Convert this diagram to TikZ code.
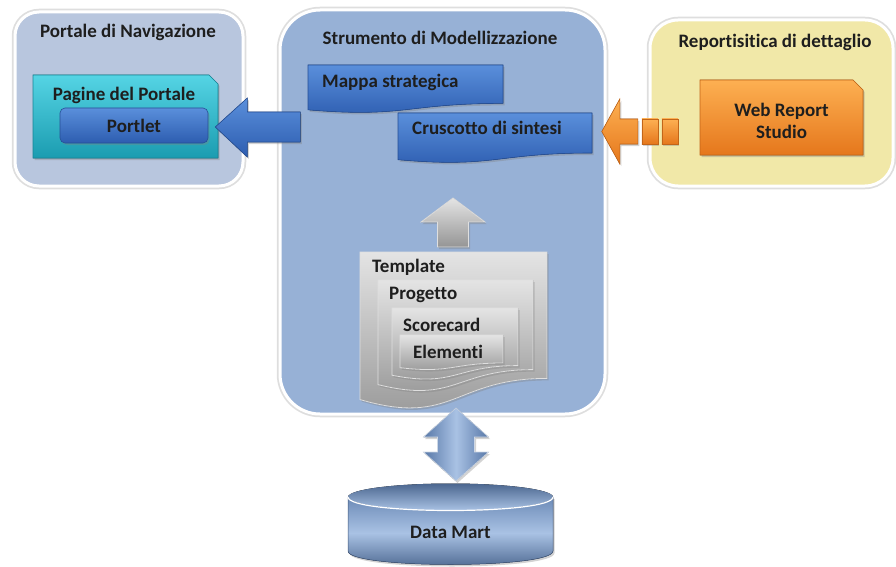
\documentclass[tikz,border=0pt]{standalone}
\usepackage{fontspec}
\setmainfont{Carlito}[Ligatures=NoCommon]
\usetikzlibrary{calc,shadows}

\definecolor{navbg}{HTML}{B8C6DE}
\definecolor{modbg}{HTML}{97B1D6}
\definecolor{repbg}{HTML}{F1E8A8}
\definecolor{txt}{HTML}{1E1E1E}
\definecolor{cyanT}{HTML}{55D4E4}
\definecolor{cyanB}{HTML}{1B9CB0}
\definecolor{blueT}{HTML}{5A8FDB}
\definecolor{blueB}{HTML}{2D5DB0}
\definecolor{orT}{HTML}{FDB052}
\definecolor{orB}{HTML}{E5771C}
\definecolor{grT}{HTML}{E4E4E4}
\definecolor{grB}{HTML}{959595}
\definecolor{cylD}{HTML}{5878A8}
\definecolor{cylL}{HTML}{A9C2E4}

% flowchart "document" outline: left, top, right, height
\newcommand\docpath[4]{(#1,#2) -- (#3,#2) -- (#3,{#2+0.8*#4})
  .. controls ({(#1+#3)/2},{#2+0.8*#4}) and ({(#1+#3)/2},{#2+1.107*#4}) ..
  (#1,{#2+0.934*#4}) -- cycle}
% rectangle with its top-right corner snipped: left, top, right, bottom, snip
\newcommand\snippath[5]{(#1,#2) -- ({#3-#5},#2) -- (#3,{#2+#5}) -- (#3,#4)
  -- (#1,#4) -- cycle}

\tikzset{
  lbl/.style={font=\bfseries\fontsize{19}{22}\selectfont, text=txt, inner sep=0pt},
  panelbox/.style={draw=white, line width=3pt,
    preaction={draw=black!13, line width=6.5pt}, inner sep=0pt},
  softshadow/.style={drop shadow={opacity=0.35, shadow xshift=1.5pt, shadow yshift=-2pt}},
  bluefill/.style={top color=blueT, bottom color=blueB, draw=blueB!85!black,
    line width=0.6pt, softshadow},
  cyanfill/.style={top color=cyanT, bottom color=cyanB, draw=cyanB!85!black,
    line width=0.6pt, softshadow},
  orangefill/.style={top color=orT, bottom color=orB, draw=orB!85!black,
    line width=0.6pt, softshadow},
  grayfill/.style={top color=grT, bottom color=grB, draw=white!75!gray,
    line width=0.8pt, softshadow},
  dbarrow/.style={left color=cylD, right color=cylD, middle color=cylL,
    draw=white!70!cylD, line width=0.6pt, softshadow},
}

\begin{document}
\begin{tikzpicture}[x=1pt,y=-1pt]
\useasboundingbox (0,0) rectangle (896,567);

% ---- three panels
\node[panelbox, fill=navbg, rounded corners=24pt,
      minimum width=228pt, minimum height=174pt] (nav) at (129,99) {};
\node[panelbox, fill=modbg, rounded corners=40pt,
      minimum width=325pt, minimum height=404pt] (mod) at (442.5,212) {};
\node[panelbox, fill=repbg, rounded corners=28pt,
      minimum width=243pt, minimum height=166pt] (rep) at (771.5,103) {};

\node[lbl] (navtitle) at (128,32) {Portale di Navigazione};
\node[lbl] (modtitle) at (440,38) {Strumento di Modellizzazione};
\node[lbl] (reptitle) at (775,42) {Reportisitica di dettaglio};

% ---- navigation portal
\fill[cyanfill] \snippath{33}{75}{218}{158}{9};
\node[lbl] (paginetitle) at (124,95) {Pagine del Portale};
\node[bluefill, rounded corners=5pt, minimum width=148pt, minimum height=35pt,
      inner sep=0pt, lbl] (portlet) at (134,125.5) {Portlet};

% ---- modelling tool boxes
\fill[bluefill] \docpath{308}{65}{503}{48};
\node[lbl, anchor=west] (mappa) at (322,82) {Mappa strategica};
\fill[bluefill] \docpath{398}{113}{592}{50};
\node[lbl, anchor=west] (cruscotto) at (412,128) {Cruscotto di sintesi};

% ---- report box
\fill[orangefill] \snippath{700}{80}{863}{155}{10};
\node[lbl, align=center, minimum width=163pt, minimum height=75pt]
      (webreport) at (781.5,121) {Web Report\\Studio};

% ---- nested template stack
\fill[grayfill] \docpath{360}{252}{547}{158};
\node[lbl, anchor=west] (template) at (372,267) {Template};
\fill[grayfill] \docpath{378}{280}{533}{112};
\node[lbl, anchor=west] (progetto) at (389,295) {Progetto};
\fill[grayfill] \docpath{392}{308}{518}{72};
\node[lbl, anchor=west] (scorecard) at (403,325) {Scorecard};
\fill[grayfill] \docpath{400}{335}{503}{35};
\node[lbl, anchor=west] (elementi) at (413,352) {Elementi};

% ---- data mart cylinder
\fill[top color=cylD!75!cylL, bottom color=cylD!85!black, middle color=cylL, softshadow]
  (348,497) -- (348,551) .. controls (348,569) and (553,569) .. (553,551)
  -- (553,497) -- cycle;
\draw[cylD!70!black, line width=0.5pt]
  (348,497) -- (348,551) .. controls (348,569) and (553,569) .. (553,551)
  -- (553,497);
\fill[top color=cylD!85!black, bottom color=cylL] (450.5,497)
  ellipse [x radius=102.5, y radius=13.5];
\draw[white, line width=1.2pt]
  (348,497) .. controls (348,515) and (553,515) .. (553,497);
\node[lbl] (datamart) at (450.5,532) {Data Mart};

% ---- block arrows
\coordinate (bluetip) at ($(portlet.east)+(7,1.5)$);
\fill[bluefill] (bluetip) -- ++(32,-29) -- ++(0,14) -- ++(53,0) -- ++(0,30)
  -- ++(-53,0) -- ++(0,15) -- cycle;

\coordinate (orangetip) at ($(webreport.west)+(-98,10.5)$);
\fill[orangefill] (orangetip) -- ++(18,-32.5) -- ++(0,20) -- ++(18,0)
  -- ++(0,25) -- ++(-18,0) -- ++(0,20) -- cycle;
\fill[orangefill] ($(orangetip)+(40,-12.5)$) rectangle ++(16,25);
\fill[orangefill] ($(orangetip)+(60,-12.5)$) rectangle ++(16,25);

\coordinate (uptip) at (453,198);
\fill[grayfill] (uptip) -- ++(32,24) -- ++(-16.5,0) -- ++(0,25) -- ++(-31,0)
  -- ++(0,-25) -- ++(-16.5,0) -- cycle;

\coordinate (dbtop) at (456,408);
\coordinate (dbbot) at (456,481);
\fill[dbarrow] (dbtop) -- ++(32.5,29) -- ++(-14,0) -- ++(0,15) -- ++(14,0)
  -- (dbbot) -- ++(-32.5,-29) -- ++(14,0) -- ++(0,-15) -- ++(-14,0) -- cycle;
\end{tikzpicture}
\end{document}
